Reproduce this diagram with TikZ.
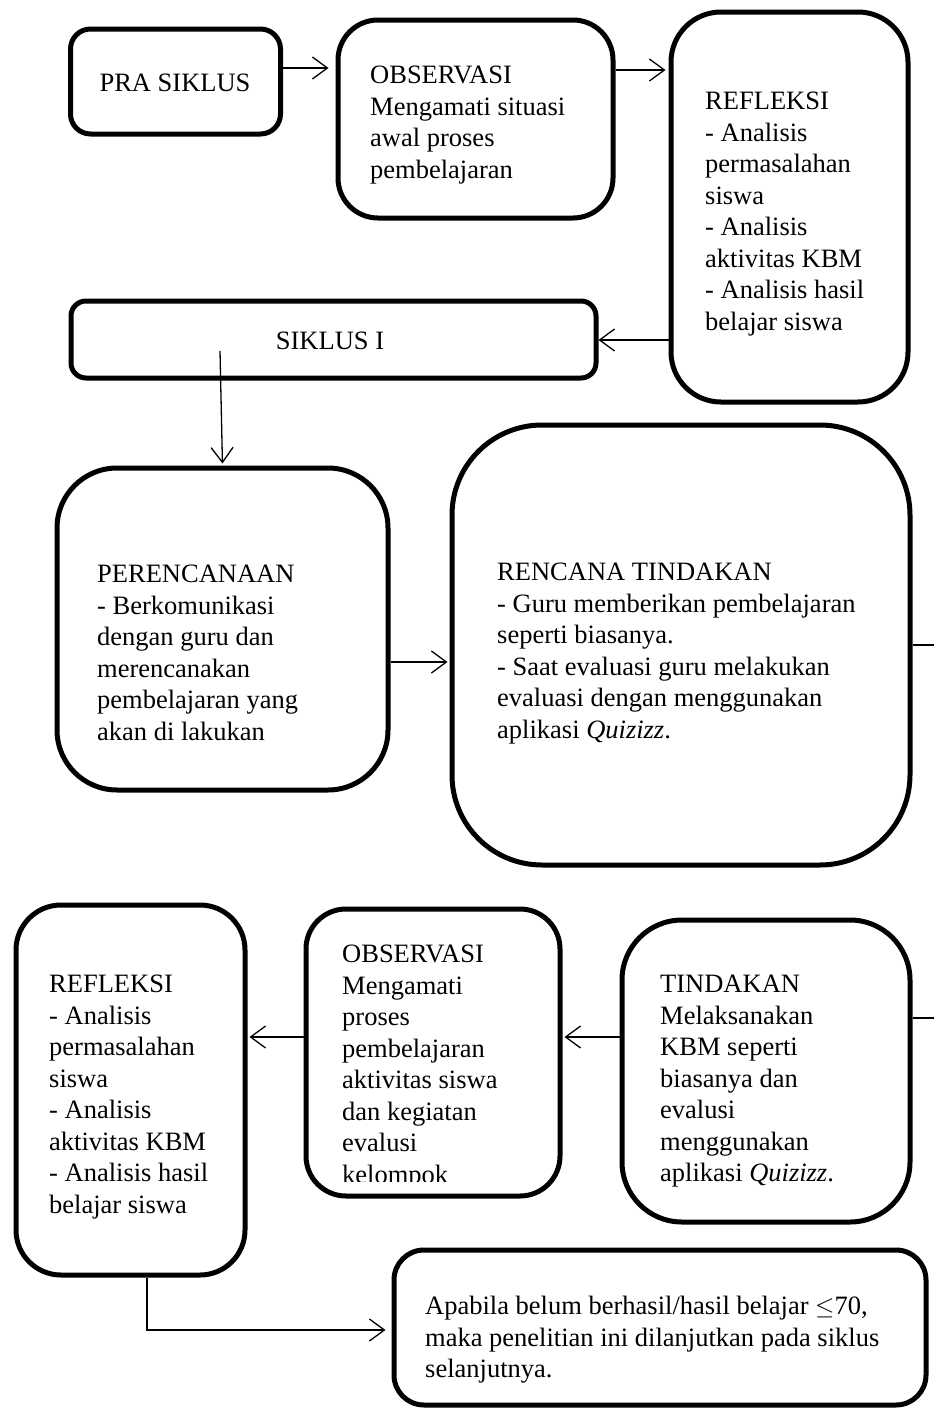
\documentclass[tikz,border=0pt]{standalone}
\usepackage{fontspec}
\setmainfont{Liberation Serif}
\usepackage{amssymb}
\usetikzlibrary{arrows.meta}
\begin{document}
\begin{tikzpicture}[x=1pt,y=-1pt,
  box/.style={draw,line width=5pt,inner sep=0pt},
  txt/.style={anchor=north west,align=left,inner sep=0pt,font=\fontsize{26.5}{31.5}\selectfont},
  ctxt/.style={inner sep=0pt,font=\fontsize{26.5}{31.5}\selectfont},
  conn/.style={line width=1.3pt},
  arr/.style={conn,-{Straight Barb[length=15pt,width=22pt]}}]
\useasboundingbox (0,0) rectangle (934,1411);
% boxes
\node[box,rounded corners=20pt,minimum width=210pt,minimum height=105pt] (pra) at (175.5,81.5) {};
\node[box,rounded corners=40pt,minimum width=275pt,minimum height=198pt] (obs1) at (475.5,119) {};
\node[box,rounded corners=50pt,minimum width=237pt,minimum height=390pt] (ref1) at (789.5,207) {};
\node[box,rounded corners=15pt,minimum width=525pt,minimum height=77pt] (sik) at (333.5,339.5) {};
\node[box,rounded corners=60pt,minimum width=331pt,minimum height=322pt] (per) at (222.5,629) {};
\node[box,rounded corners=90pt,minimum width=458pt,minimum height=440pt] (rt) at (681,645) {};
\node[box,rounded corners=60pt,minimum width=288pt,minimum height=302pt] (tin) at (766,1071) {};
\node[box,rounded corners=40pt,minimum width=254pt,minimum height=287pt] (obs2) at (433,1052.5) {};
\node[box,rounded corners=45pt,minimum width=229pt,minimum height=370pt] (ref2) at (130.5,1090) {};
\node[box,rounded corners=30pt,minimum width=532pt,minimum height=155pt] (fin) at (660,1327.5) {};
% texts
\node[ctxt] (tpra) at (175,83) {PRA SIKLUS};
\node[txt] (tobs1) at (370,66) {OBSERVASI\\Mengamati situasi\\awal proses\\pembelajaran};
\node[txt] (tref1) at (705,92) {REFLEKSI\\- Analisis\\permasalahan\\siswa\\- Analisis\\aktivitas KBM\\- Analisis hasil\\belajar siswa};
\node[ctxt] (tsik) at (330,341) {SIKLUS I};
\node[txt] (tper) at (97,565) {PERENCANAAN\\- Berkomunikasi\\dengan guru dan\\merencanakan\\pembelajaran yang\\akan di lakukan};
\node[txt] (trt) at (497,563) {RENCANA TINDAKAN\\- Guru memberikan pembelajaran\\seperti biasanya.\\- Saat evaluasi guru melakukan\\evaluasi dengan menggunakan\\aplikasi \textit{Quizizz}.};
\node[txt] (ttin) at (660,975) {TINDAKAN\\Melaksanakan\\KBM seperti\\biasanya dan\\evalusi\\menggunakan\\aplikasi \textit{Quizizz}.};
\begin{scope}
\clip (310,930) rectangle (556,1181);
\node[txt] (tobs2) at (342,945) {OBSERVASI\\Mengamati\\proses\\pembelajaran\\aktivitas siswa\\dan kegiatan\\evalusi\\kelompok};
\end{scope}
\node[txt] (tref2) at (49,975) {REFLEKSI\\- Analisis\\permasalahan\\siswa\\- Analisis\\aktivitas KBM\\- Analisis hasil\\belajar siswa};
\node[txt] (tfin) at (425,1296) {Apabila belum berhasil/hasil belajar $\leq$70,\\maka penelitian ini dilanjutkan pada siklus\\selanjutnya.};
% helper coordinates
\coordinate (y68) at (0,68);
\coordinate (y70) at (0,70);
\coordinate (y340) at (0,340);
\coordinate (y662) at (0,662);
\coordinate (y1018) at (0,1018);
\coordinate (y1037) at (0,1037);
\coordinate (y1330) at (0,1330);
\coordinate (x147) at (147,0);
\coordinate (sikin) at (220,351);
\coordinate (rtout) at (934,645);
\coordinate (tinout) at (934,1018);
% connectors
\draw[arr,shorten >=7pt] (pra.east |- y68) -- (obs1.west |- y68);
\draw[arr,shorten >=3pt] (obs1.east |- y70) -- (ref1.west |- y70);
\draw[arr] (ref1.west |- y340) -- (sik.east |- y340);
\draw[arr,shorten >=2pt] (sikin) -- (per.north);
\draw[arr,shorten >=2pt] (per.east |- y662) -- (rt.west |- y662);
\draw[conn] (rt.east) -- (rtout);
\draw[conn] (tin.east |- y1018) -- (tinout);
\draw[arr,shorten >=2pt] (tin.west |- y1037) -- (obs2.east |- y1037);
\draw[arr,shorten >=2pt] (obs2.west |- y1037) -- (ref2.east |- y1037);
\draw[arr,shorten >=6pt] (ref2.south -| x147) |- (fin.west |- y1330);
\end{tikzpicture}
\end{document}
